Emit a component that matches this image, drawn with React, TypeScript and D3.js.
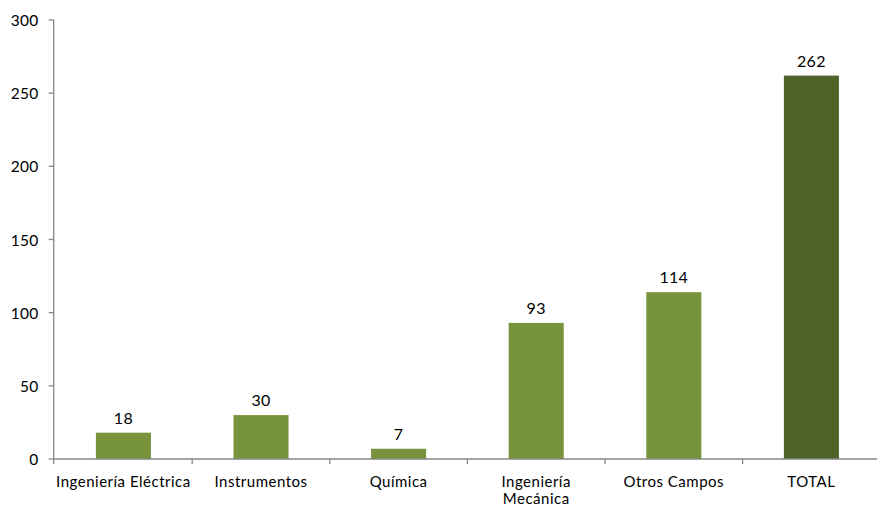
import React from "react";
import * as d3 from "d3";

const categories = ["Ingeniería Eléctrica", "Instrumentos", "Química", "Ingeniería Mecánica", "Otros Campos", "TOTAL"];
const labelLines = [["Ingeniería Eléctrica"], ["Instrumentos"], ["Química"], ["Ingeniería", "Mecánica"], ["Otros Campos"], ["TOTAL"]];
const values = [18, 30, 7, 93, 114, 262];
const yTicks = [0, 50, 100, 150, 200, 250, 300];

const W = 877, H = 507;
const axisX = 53.7;
const left = 54.6, right = 880.2, top = 20, bottom = 459;
const font = "Lato, 'Open Sans', sans-serif";

export default function App() {
  const x = d3.scaleBand<string>().domain(categories).range([left, right]).paddingInner(0.6).paddingOuter(0.3);
  const y = d3.scaleLinear().domain([0, 300]).range([bottom, top]);
  const step = (right - left) / categories.length;
  return (
    <svg width={W} height={H} style={{ position: "absolute", left: 0, top: 0 }}>
      <rect width={W} height={H} fill="#fff" />
      {categories.map((c, i) => (
        <g key={c}>
          <rect x={x(c)} y={y(values[i])} width={x.bandwidth()} height={bottom - y(values[i])}
            fill={c === "TOTAL" ? "#4F6228" : "#77933C"} />
          <text x={x(c)! + x.bandwidth() / 2} y={y(values[i]) - 9} textAnchor="middle"
            fontFamily={font} fontSize={16} letterSpacing={0.3} fill="#000">{values[i]}</text>
          {labelLines[i].map((l, j) => (
            <text key={j} x={x(c)! + x.bandwidth() / 2} y={487 + j * 16.5} textAnchor="middle"
              fontFamily={font} fontSize={15} letterSpacing={0.5} fill="#000">{l}</text>
          ))}
        </g>
      ))}
      <line x1={axisX} x2={axisX} y1={top} y2={bottom} stroke="#868686" strokeWidth={1.3} />
      <line x1={axisX} x2={right} y1={bottom} y2={bottom} stroke="#868686" strokeWidth={1.3} />
      {yTicks.map(t => (
        <g key={t}>
          <line x1={axisX - 5} x2={axisX} y1={y(t)} y2={y(t)} stroke="#868686" strokeWidth={1.3} />
          <text x={38.5} y={y(t) + 6} textAnchor="end" fontFamily={font} fontSize={15.5} letterSpacing={0.3} fill="#000">{t}</text>
        </g>
      ))}
      {d3.range(categories.length + 1).map(i => (
        <line key={i} x1={i === 0 ? axisX : left + i * step} x2={i === 0 ? axisX : left + i * step} y1={bottom} y2={bottom + 5} stroke="#868686" strokeWidth={1.3} />
      ))}
    </svg>
  );
}
